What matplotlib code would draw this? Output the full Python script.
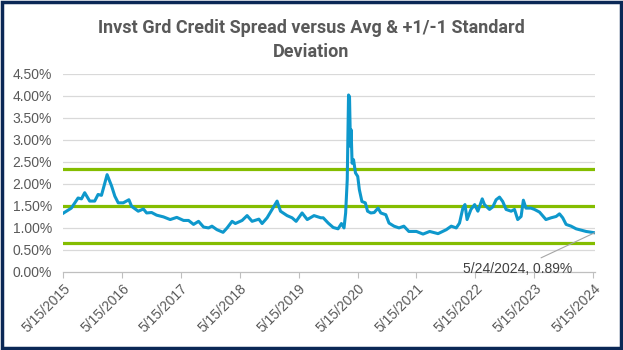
import matplotlib
matplotlib.use("Agg")
import matplotlib.pyplot as plt
import matplotlib.dates as mdates
import numpy as np
import pandas as pd
from matplotlib.patches import Rectangle

# ---- data ----
dates = [
    "2015-05-15", "2015-07-06", "2015-08-17", "2015-09-07", "2015-09-27", "2015-10-28",
    "2015-11-28", "2015-12-19", "2016-01-09", "2016-02-13", "2016-03-12", "2016-04-01",
    "2016-04-22", "2016-05-23", "2016-06-27", "2016-07-14", "2016-08-24", "2016-09-25",
    "2016-10-15", "2016-11-15", "2016-12-16", "2017-01-28", "2017-03-10", "2017-04-20",
    "2017-06-01", "2017-07-02", "2017-08-02", "2017-09-02", "2017-10-03", "2017-11-03",
    "2017-11-24", "2017-12-25", "2018-02-01", "2018-02-26", "2018-03-29", "2018-04-18",
    "2018-05-30", "2018-06-30", "2018-07-31", "2018-09-11", "2018-10-01", "2018-11-01",
    "2018-12-02", "2019-01-02", "2019-01-23", "2019-03-05", "2019-04-05", "2019-04-30",
    "2019-06-06", "2019-07-08", "2019-08-19", "2019-09-30", "2019-10-15", "2019-11-15",
    "2019-12-16", "2020-01-15", "2020-02-05", "2020-02-21", "2020-03-02", "2020-03-12",
    "2020-03-20", "2020-03-26", "2020-04-01", "2020-04-05", "2020-04-11", "2020-04-20",
    "2020-05-02", "2020-05-16", "2020-05-26", "2020-06-11", "2020-07-02", "2020-07-16",
    "2020-08-05", "2020-08-26", "2020-09-19", "2020-10-06", "2020-11-06", "2020-11-26",
    "2020-12-27", "2021-01-27", "2021-02-26", "2021-03-29", "2021-05-15", "2021-06-25",
    "2021-08-05", "2021-09-26", "2021-11-16", "2021-12-17", "2022-01-17", "2022-02-06",
    "2022-02-27", "2022-03-12", "2022-03-25", "2022-04-18", "2022-05-11", "2022-05-31",
    "2022-06-27", "2022-07-11", "2022-08-11", "2022-09-01", "2022-09-21", "2022-10-12",
    "2022-11-01", "2022-11-22", "2022-12-23", "2023-01-13", "2023-02-02", "2023-02-23",
    "2023-03-09", "2023-03-25", "2023-04-25", "2023-05-17", "2023-06-17", "2023-07-27",
    "2023-08-28", "2023-09-28", "2023-10-19", "2023-11-08", "2023-11-29", "2023-12-30",
    "2024-01-30", "2024-03-01", "2024-04-01", "2024-05-24",
]
spread = [
    1.33, 1.45, 1.68, 1.66, 1.80, 1.61,
    1.61, 1.76, 1.74, 2.21, 1.95, 1.72,
    1.57, 1.57, 1.64, 1.49, 1.38, 1.43,
    1.34, 1.35, 1.29, 1.25, 1.19, 1.24,
    1.17, 1.17, 1.08, 1.15, 1.02, 1.00,
    1.04, 0.96, 0.90, 1.00, 1.15, 1.10,
    1.17, 1.28, 1.15, 1.20, 1.10, 1.23,
    1.42, 1.61, 1.38, 1.28, 1.23, 1.15,
    1.34, 1.19, 1.28, 1.23, 1.23, 1.11,
    1.01, 0.98, 1.10, 1.00, 1.34, 2.10,
    4.02, 3.98, 2.85, 3.23, 2.47, 2.55,
    2.25, 2.17, 1.87, 1.60, 1.57, 1.38,
    1.34, 1.35, 1.45, 1.34, 1.30, 1.11,
    1.04, 1.00, 1.04, 0.92, 0.92, 0.86,
    0.92, 0.87, 0.96, 1.04, 1.00, 1.11,
    1.45, 1.53, 1.19, 1.42, 1.53, 1.38,
    1.66, 1.53, 1.42, 1.48, 1.64, 1.70,
    1.60, 1.42, 1.38, 1.42, 1.19, 1.26,
    1.63, 1.45, 1.45, 1.42, 1.36, 1.19,
    1.23, 1.26, 1.32, 1.23, 1.08, 1.04,
    0.98, 0.95, 0.92, 0.89,
]
avg_level = 1.50
plus_1sd = 2.34
minus_1sd = 0.66
tick_dates = ["2015-05-15", "2016-05-15", "2017-05-15", "2018-05-15", "2019-05-15",
              "2020-05-15", "2021-05-15", "2022-05-15", "2023-05-15", "2024-05-15"]
y_ticks = [0.0, 0.5, 1.0, 1.5, 2.0, 2.5, 3.0, 3.5, 4.0, 4.5]
title = "Invst Grd Credit Spread versus Avg & +1/-1 Standard\nDeviation"
annot_text = "5/24/2024, 0.89%"

# ---- plot ----
x = pd.to_datetime(dates)
xt = pd.to_datetime(tick_dates)

fig = plt.figure(figsize=(6.23, 3.5), dpi=100)
ax = fig.add_axes([0.101, 0.223, 0.854, 0.566])

grey_txt = "#595959"
for yv in y_ticks[1:]:
    ax.axhline(yv, color="#d9d9d9", lw=0.9, zorder=0)

for lvl in (plus_1sd, avg_level, minus_1sd):
    ax.axhline(lvl, color="#84BD00", lw=2.3, zorder=2)

ax.plot(x, spread, color="#0E98CC", lw=2.2, zorder=3, solid_joinstyle="round")

ax.set_xlim(x[0], x[-1] + pd.Timedelta(days=2))
ax.set_ylim(0, 4.5)
ax.set_yticks(y_ticks)
ax.set_yticklabels([f"{v:.2f}%" for v in y_ticks])
ax.set_xticks(xt)
ax.set_xticklabels([f"{d.month}/{d.day}/{d.year}" for d in xt],
                   rotation=45, ha="right", rotation_mode="anchor")

for s in ("top", "right", "left"):
    ax.spines[s].set_visible(False)
ax.spines["bottom"].set_color("#bfbfbf")
ax.spines["bottom"].set_linewidth(0.9)
ax.tick_params(axis="y", length=0, pad=8, labelsize=10, labelcolor=grey_txt)
ax.tick_params(axis="x", length=4, color="#bfbfbf", pad=3, labelsize=10,
               labelcolor=grey_txt)
for lab in ax.get_xticklabels() + ax.get_yticklabels():
    lab.set_fontfamily("Liberation Sans")

ax.annotate(annot_text, xy=(x[-1], spread[-1]), xytext=(-77, -36),
            textcoords="offset pixels", ha="center", va="center",
            fontsize=10, color="#404040", family="Liberation Sans",
            arrowprops=dict(arrowstyle="-", color="#a6a6a6", lw=0.8,
                            shrinkA=2, shrinkB=0), zorder=5)

fig.text(0.5, 0.885, title, ha="center", va="center", fontsize=13,
         fontweight="bold", color=grey_txt, family="Roboto", linespacing=1.45)

fig.patches.append(Rectangle((0.003, 0.005), 0.994, 0.99, transform=fig.transFigure,
                             fill=False, edgecolor="#0b2856", lw=2.5))

fig.savefig("out.png", dpi=100)
